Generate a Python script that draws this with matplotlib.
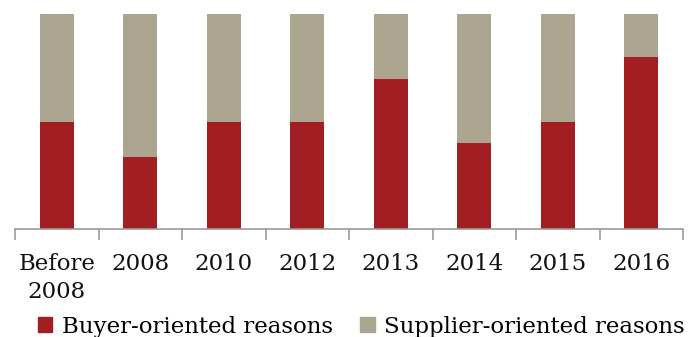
import numpy as np
import matplotlib.pyplot as plt
from matplotlib.patches import Patch
from matplotlib.ticker import FixedLocator

categories = ["Before\n2008", "2008", "2010", "2012", "2013", "2014", "2015", "2016"]
buyer = [50, 33.3, 50, 50, 70, 40, 50, 80]
supplier = [100 - b for b in buyer]

red = "#A11F22"
tan = "#ACA590"

plt.rcParams["font.family"] = ["DejaVu Serif"]

fig = plt.figure(figsize=(6.88, 3.37), dpi=100)
ax = fig.add_axes([15 / 688, 1 - 229 / 337, 668 / 688, 215 / 337])

x = np.arange(len(categories))
ax.bar(x, buyer, width=0.41, color=red)
ax.bar(x, supplier, width=0.41, bottom=buyer, color=tan)

ax.set_xlim(-0.5, len(categories) - 0.5)
ax.set_ylim(0, 100)
ax.set_yticks([])
for side in ["top", "right", "left"]:
    ax.spines[side].set_visible(False)
ax.spines["bottom"].set_color("#999999")
ax.spines["bottom"].set_linewidth(1.2)

ax.set_xticks(x)
ax.set_xticklabels(categories, fontsize=16.5, color="#111111", linespacing=1.4)
ax.tick_params(axis="x", which="major", length=0, pad=17)
ax.xaxis.set_minor_locator(FixedLocator(np.arange(-0.5, len(categories), 1.0)))
ax.tick_params(axis="x", which="minor", length=8, width=1.2, color="#999999", direction="out")

handles = [Patch(color=red, label="Buyer-oriented reasons"),
           Patch(color=tan, label="Supplier-oriented reasons")]
fig.legend(handles=handles, loc="center", bbox_to_anchor=(0.525, 0.03), ncol=2,
           frameon=False, fontsize=16.5, handlelength=0.65, handleheight=0.65,
           handletextpad=0.4, columnspacing=1.2, borderpad=0)

fig.savefig("out.png", dpi=100)
